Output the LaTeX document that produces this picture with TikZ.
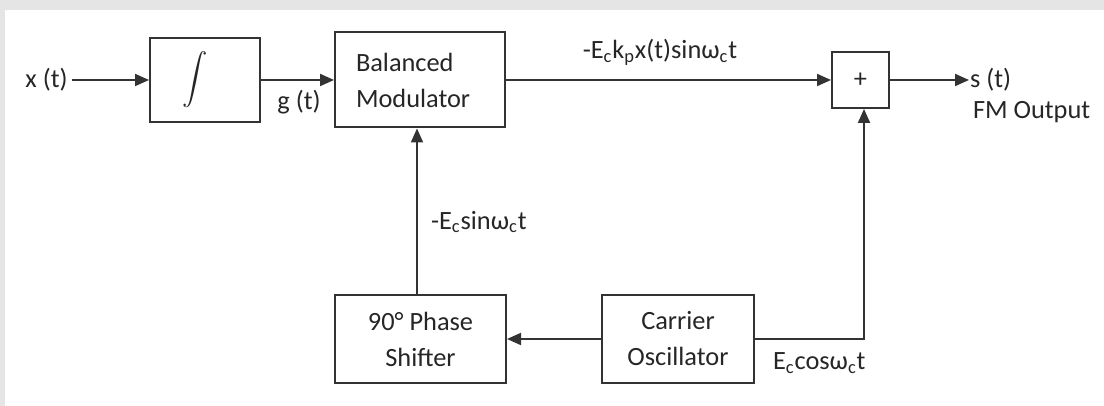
\documentclass[tikz,border=0pt]{standalone}
\usepackage{amsmath}
\usepackage{fontspec}
\setmainfont{Carlito}
\usetikzlibrary{arrows.meta,calc}

\begin{document}
\begin{tikzpicture}[>={Triangle[length=.28cm,width=.24cm]},line width=.04cm,black!80,
every node/.style={text=black!85,font=\fontsize{15}{20.5}\selectfont},
blk/.style={draw,inner sep=0pt,align=center}]
\fill[black!10](0,0)rectangle(22.08,8.12);\fill[white](.1,0)rectangle(22.08,7.92);
\useasboundingbox(0,0)rectangle(22.08,8.12);
% top row
\node[inner sep=.06cm](xt)at(.93,6.52){x (t)};
\node[blk,minimum width=2.2cm,minimum height=1.68cm](integ)at(4.1,6.52){$\displaystyle\int$\hspace{.4cm}};
\node[blk,minimum width=3.4cm,minimum height=1.9cm,text width=2.56cm,align=left](bmod)at(8.4,6.52){Balanced\\Modulator};
\node[blk,minimum width=1.14cm,minimum height=1.12cm](summ)at(17.21,6.52){+};
\node[anchor=west,inner sep=0pt](st)at(19.38,6.52){s (t)};
\node[anchor=west,inner sep=0pt](fm)at(19.44,5.88){FM Output};
\node(gt)at(5.98,6.08){g (t)};
\node(mix)at(13.2,7.08){-E\textsubscript{c}k\textsubscript{p}x(t)sinω\textsubscript{c}t};
% bottom row
\node[blk,minimum width=3.42cm,minimum height=1.76cm](phase)at(8.41,1.34){90° Phase\\Shifter};
\node[blk,minimum width=3.04cm,minimum height=1.76cm](osc)at(13.56,1.34){Carrier\\Oscillator};
\node[anchor=west,inner sep=0pt](qsig)at(8.6,3.68){-E\textsubscript{c}sinω\textsubscript{c}t};
\node[anchor=west,inner sep=0pt](csig)at(15.44,.86){E\textsubscript{c}cosω\textsubscript{c}t};
% connectors
\draw[->](xt)--(integ);\draw[->](integ)--(bmod);\draw[->](bmod)--(summ);\draw[->](summ)--(st);
\draw[->](osc)--(phase);
\draw[->]($(phase.north)+(-.07,0)$)--($(bmod.south)+(-.06,0)$);
\draw[->](osc.east)-|($(summ.south)+(.07,0)$);
\end{tikzpicture}
\end{document}
